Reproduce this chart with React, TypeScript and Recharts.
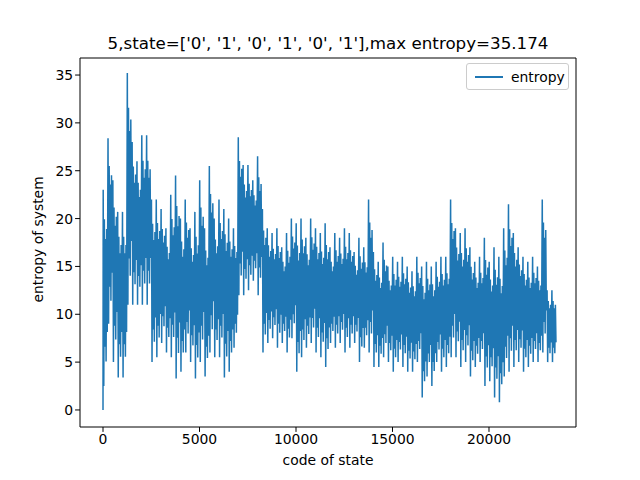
import React from 'react';
import { LineChart, Line, XAxis, YAxis } from 'recharts';

const step = 250;
const highs = [23, 28.4, 24, 20.7, 20.7, 35.2, 28, 26, 28.7, 28.7, 22, 22,
  21, 19, 22.5, 24.5, 20, 22, 19, 20.7, 24, 19, 25.5, 20, 22, 21, 20, 19, 28.5, 25.6, 25.6, 24, 26.5, 21, 19, 18.5, 19, 17, 18.5, 20, 19.5, 20, 18, 20, 19, 18.5, 19.5, 17, 18.5, 18, 19, 18.5, 16.5, 18, 17, 22, 16.5, 15.5, 17.5, 15, 16, 15.5, 16, 15, 14.5, 16, 15, 15.5, 15, 15.5, 16, 16, 22, 19, 18.5, 19, 17, 15.5, 16, 18, 15.5, 17, 16, 19, 21.5, 18.5, 17, 16, 15.5, 16, 15, 22, 12.5, 12.5];
const lows = [2.5, 9, 5, 3.4, 3.4, 11, 11, 11, 11, 11, 5, 5.5,
  7, 6, 5.5, 3.3, 4, 6, 5, 3.3, 5, 3.5, 6, 5.5, 5.5, 3.4, 4, 6.5, 12, 12, 12.5, 13.5, 12, 6, 7, 7.5, 6.5, 7, 6, 7.5, 4, 5.5, 6.5, 7, 6, 5.5, 4.5, 7, 6.5, 7, 6, 6.5, 7, 5, 6.5, 6, 4.5, 4.5, 5.5, 5, 4, 5, 4.5, 4, 4, 5, 1.3, 3.5, 2.5, 5, 4, 4.5, 5.5, 5.5, 4.5, 5, 3.5, 4.5, 5, 2.5, 3, 1.3, 0.8, 3.5, 4, 4.5, 5, 4, 4.5, 5, 5, 6, 5, 5];
const xTicks = [0, 5000, 10000, 15000, 20000];
const yTicks = [0, 5, 10, 15, 20, 25, 30, 35];

// each segment: peak, trough, then inner swings within the dense band
const data: { x: number; y: number }[] = [{ x: 0, y: 0 }];
highs.forEach((h, i) => {
  const x0 = i * step;
  const l = lows[i];
  const m = (h + l) / 2;
  const r = (h - l) / 2;
  data.push({ x: x0 + 10, y: h });
  data.push({ x: x0 + 40, y: l });
  data.push({ x: x0 + 70, y: m + r * 0.7 });
  data.push({ x: x0 + 100, y: m - r * 0.6 });
  data.push({ x: x0 + 130, y: m + r * 0.5 });
  data.push({ x: x0 + 160, y: m - r * 0.75 });
  data.push({ x: x0 + 190, y: m + r * 0.6 });
  data.push({ x: x0 + 220, y: m - r * 0.45 });
});

const font = 'DejaVu Sans, sans-serif';

export default function App() {
  return (
    <div style={{ position: 'absolute', left: 0, top: 0, width: 640, height: 480, background: '#fff', fontFamily: font }}>
      <LineChart width={640} height={480} data={data} margin={{ top: 58, right: 64, bottom: 13, left: 0 }}>
        <XAxis dataKey="x" type="number" domain={[-1192, 24508]} ticks={xTicks} allowDataOverflow
          height={40} tick={{ fill: '#000', fontSize: 13.9, fontFamily: font }} tickSize={4.9}
          stroke="#000" label={{ value: 'code of state', position: 'insideBottom', offset: 2, fill: '#000', fontSize: 13.9, fontFamily: font }} />
        <YAxis type="number" domain={[-1.78, 36.78]} ticks={yTicks} allowDataOverflow width={80}
          tick={{ fill: '#000', fontSize: 13.9, fontFamily: font }} tickSize={4.9} stroke="#000"
          label={{ value: 'entropy of system', angle: -90, position: 'insideLeft', offset: 38, dy: 60, fill: '#000', fontSize: 13.9, fontFamily: font }} />
        <Line dataKey="y" stroke="#1f77b4" strokeWidth={1.5} dot={false} isAnimationActive={false} />
        <text x={328} y={49} textAnchor="middle" fontSize={16.7} fontFamily={font} fill="#000">
          5,state=['0', '1', '0', '1', '0', '1'],max entropy=35.174
        </text>
        <line x1={80} y1={58} x2={576} y2={58} stroke="#000" />
        <line x1={576} y1={58} x2={576} y2={427} stroke="#000" />
      </LineChart>
      <div style={{ position: 'absolute', left: 466, top: 63, width: 101, height: 25, border: '1px solid #ccc', borderRadius: 3, background: '#fff', display: 'flex', alignItems: 'center', fontSize: 13.9 }}>
        <div style={{ width: 28, height: 2, background: '#1f77b4', marginLeft: 8, marginRight: 8 }} />
        <span>entropy</span>
      </div>
    </div>
  );
}
